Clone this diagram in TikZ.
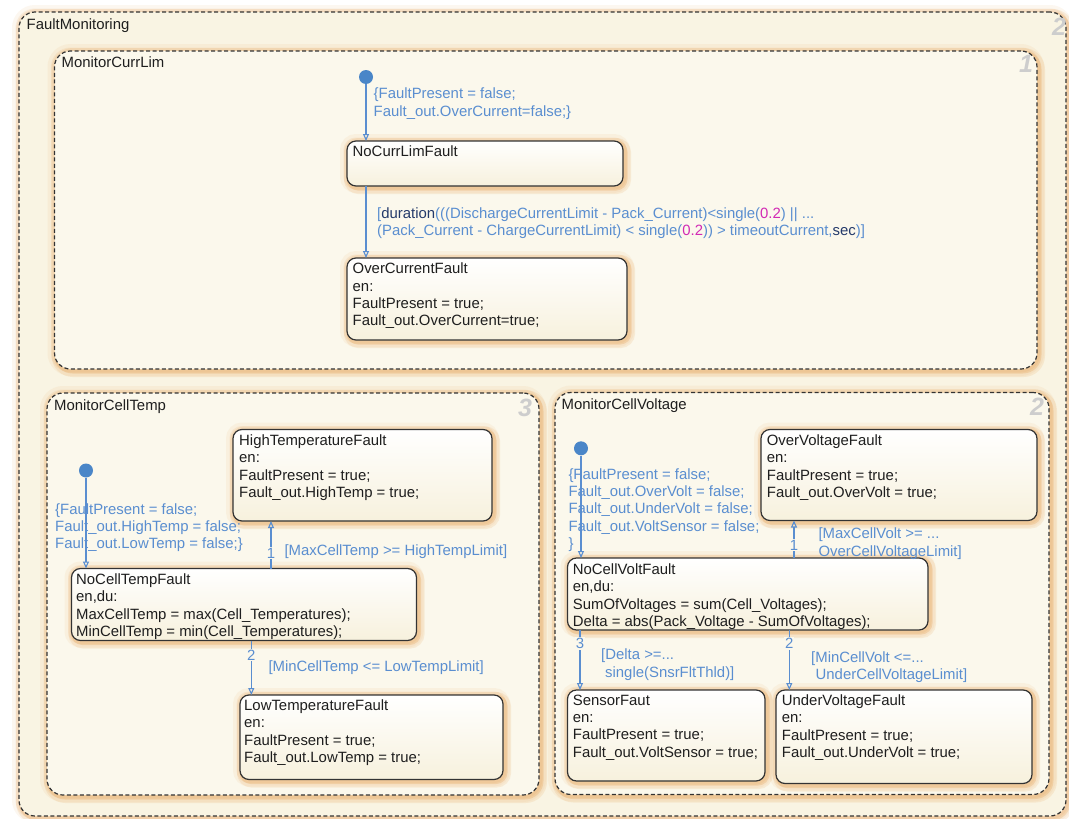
\documentclass[tikz,border=0pt]{standalone}
\usepackage{fontspec}
\setmainfont{Liberation Sans}
\usetikzlibrary{arrows.meta}
\definecolor{txt}{HTML}{1E1E1E}
\definecolor{tblue}{HTML}{5A8ED0}
\definecolor{dotc}{HTML}{4A86C8}
\definecolor{magc}{HTML}{D22AB4}
\definecolor{navy}{HTML}{243A6A}
\definecolor{glowc}{HTML}{E49A45}
\definecolor{bgout}{HTML}{F9F4E3}
\definecolor{bgin}{HTML}{FBF8EC}
\definecolor{stbot}{HTML}{F7F1DD}
\definecolor{numc}{HTML}{CDCDCD}
\definecolor{edge}{HTML}{333333}
\begin{document}
\begin{tikzpicture}[x=1pt,y=-1pt,
  glow/.style={
    preaction={draw=glowc,solid,line width=14pt,opacity=0.08},
    preaction={draw=glowc,solid,line width=7pt,opacity=0.13},
    preaction={draw=glowc,solid,line width=11pt,opacity=0.14,transform canvas={shift={(2.5pt,-2.5pt)}}},
    preaction={draw=glowc,solid,line width=5pt,opacity=0.25,transform canvas={shift={(2pt,-2pt)}}}},
  container/.style={glow, draw=edge, dash pattern=on 4pt off 2.5pt, line width=1.2pt,
    rounded corners=16pt, anchor=north west, inner sep=0pt, outer sep=0pt},
  state/.style={glow, draw=edge, line width=1.2pt, rounded corners=9pt,
    top color=white, bottom color=stbot, anchor=north west, inner sep=0pt, outer sep=0pt},
  body/.style={anchor=north west, inner sep=0pt, align=left,
    font=\fontsize{14.9}{17.4}\selectfont, text=txt},
  lbl/.style={body, text=tblue},
  cname/.style={anchor=base west, inner sep=0pt, font=\fontsize{14.9}{17.4}\selectfont, text=txt},
  cnum/.style={inner sep=0pt, font=\fontsize{25}{25}\selectfont\bfseries\itshape, text=numc},
  prio/.style={inner sep=1pt, fill=bgin, font=\fontsize{14.9}{17.4}\selectfont, text=tblue},
  trans/.style={draw=tblue, line width=1.1pt, -{Triangle[open,length=7pt,width=6pt]}},
  initdot/.style={circle, fill=dotc, minimum size=14pt, inner sep=0pt}
]
\useasboundingbox (0,0) rectangle (1069,819);
\fill[white] (0,0) rectangle (1069,819);

% containers
\node[container, fill=bgout, minimum width=1047pt, minimum height=804pt] (fm) at (19,12) {};
\node[cname] (fmname) at (26.5,29.7) {FaultMonitoring};
\node[cnum] (fmnum) at (1059,27) {2};

\node[container, fill=bgin, minimum width=982.5pt, minimum height=318pt] (mcl) at (54.5,51) {};
\node[cname] (mclname) at (61.5,67.7) {MonitorCurrLim};
\node[cnum] (mclnum) at (1026,64) {1};

\node[container, fill=bgin, minimum width=492pt, minimum height=402pt] (mct) at (47,393) {};
\node[cname] (mctname) at (54,410.4) {MonitorCellTemp};
\node[cnum] (mctnum) at (525,408) {3};

\node[container, fill=bgin, minimum width=494pt, minimum height=402pt] (mcv) at (555,392.5) {};
\node[cname] (mcvname) at (561.5,409.4) {MonitorCellVoltage};
\node[cnum] (mcvnum) at (1037,407) {2};

% ---- MonitorCurrLim
\node[state, minimum width=276pt, minimum height=45pt] (ncl) at (347,141) {};
\node[body] (ncltxt) at (352.5,146) {NoCurrLimFault};
\node[state, minimum width=280pt, minimum height=82pt] (oc) at (347,258) {};
\node[body] (octxt) at (352.5,262.8) {OverCurrentFault\\en:\\FaultPresent = true;\\Fault\_out.OverCurrent=true;};

\node[initdot] (d1) at (366,77) {};
\draw[trans] (d1) -- (d1 |- ncl.north);
\node[lbl] (d1lbl) at (373.5,88) {\{FaultPresent = false;\\Fault\_out.OverCurrent=false;\}};
\draw[trans] (d1 |- ncl.south) -- (d1 |- oc.north);
\node[lbl] (g1) at (377,207.5) {[\textcolor{navy}{duration}(((DischargeCurrentLimit - Pack\_Current)<single(\textcolor{magc}{0.2}) || ...\\(Pack\_Current - ChargeCurrentLimit) < single(\textcolor{magc}{0.2})) > timeoutCurrent,\textcolor{navy}{sec})]};

% ---- MonitorCellTemp
\node[state, minimum width=259pt, minimum height=91.5pt] (ht) at (233,429.5) {};
\node[body] (httxt) at (239,434.5) {HighTemperatureFault\\en:\\FaultPresent = true;\\Fault\_out.HighTemp = true;};
\node[state, minimum width=345pt, minimum height=72pt] (nct) at (71.5,568.5) {};
\node[body] (ncttxt) at (76,573.5) {NoCellTempFault\\en,du:\\MaxCellTemp = max(Cell\_Temperatures);\\MinCellTemp = min(Cell\_Temperatures);};
\node[state, minimum width=263pt, minimum height=84.5pt] (lt) at (240,695) {};
\node[body] (lttxt) at (244,699.5) {LowTemperatureFault\\en:\\FaultPresent = true;\\Fault\_out.LowTemp = true;};

\node[initdot] (d2) at (86,470.5) {};
\draw[trans] (d2) -- (d2 |- nct.north);
\node[lbl] (d2lbl) at (55,503) {\{FaultPresent = false;\\Fault\_out.HighTemp = false;\\Fault\_out.LowTemp = false;\}};

\coordinate (xt1) at (271,0);
\draw[trans] (xt1 |- nct.north) -- (xt1 |- ht.south);
\node[prio] (pt1) at (271,553) {1};
\node[lbl] (gt1) at (284.3,544.5) {[MaxCellTemp >= HighTempLimit]};

\coordinate (xt2) at (251.3,0);
\draw[trans] (xt2 |- nct.south) -- (xt2 |- lt.north);
\node[prio] (pt2) at (251.3,655) {2};
\node[lbl] (gt2) at (268.3,660.8) {[MinCellTemp <= LowTempLimit]};

% ---- MonitorCellVoltage
\node[state, minimum width=276pt, minimum height=91pt] (ov) at (761,429.5) {};
\node[body] (ovtxt) at (766.7,434.5) {OverVoltageFault\\en:\\FaultPresent = true;\\Fault\_out.OverVolt = true;};
\node[state, minimum width=360.5pt, minimum height=72pt] (ncv) at (567.5,558) {};
\node[body] (ncvtxt) at (572.7,563.5) {NoCellVoltFault\\en,du:\\SumOfVoltages = sum(Cell\_Voltages);\\Delta = abs(Pack\_Voltage - SumOfVoltages);};
\node[state, minimum width=197.5pt, minimum height=91pt] (sf) at (567.5,690) {};
\node[body] (sftxt) at (572.7,694.5) {SensorFaut\\en:\\FaultPresent = true;\\Fault\_out.VoltSensor = true;};
\node[state, minimum width=256pt, minimum height=93.5pt] (uv) at (776,690) {};
\node[body] (uvtxt) at (781.7,694.5) {UnderVoltageFault\\en:\\FaultPresent = true;\\Fault\_out.UnderVolt = true;};

\node[initdot] (d3) at (581,448.3) {};
\draw[trans] (d3) -- (d3 |- ncv.north);
\node[lbl] (d3lbl) at (568.3,468) {\{FaultPresent = false;\\Fault\_out.OverVolt = false;\\Fault\_out.UnderVolt = false;\\Fault\_out.VoltSensor = false;\\\}};

\coordinate (xv1) at (794,0);
\draw[trans] (xv1 |- ncv.north) -- (xv1 |- ov.south);
\node[prio] (pv1) at (794,545) {1};
\node[lbl] (gv1) at (818.3,527.8) {[MaxCellVolt >= ...\\OverCellVoltageLimit]};

\coordinate (xv3) at (580,0);
\draw[trans] (xv3 |- ncv.south) -- (xv3 |- sf.north);
\node[prio] (pv3) at (580,643.3) {3};
\node[lbl] (gv3) at (601,648.8) {[Delta >=...\\\hspace*{4pt}single(SnsrFltThld)]};

\coordinate (xv2) at (789.3,0);
\draw[trans] (xv2 |- ncv.south) -- (xv2 |- uv.north);
\node[prio] (pv2) at (789.3,643.3) {2};
\node[lbl] (gv2) at (811,651.2) {[MinCellVolt <=...\\\hspace*{4.5pt}UnderCellVoltageLimit]};
\end{tikzpicture}
\end{document}
